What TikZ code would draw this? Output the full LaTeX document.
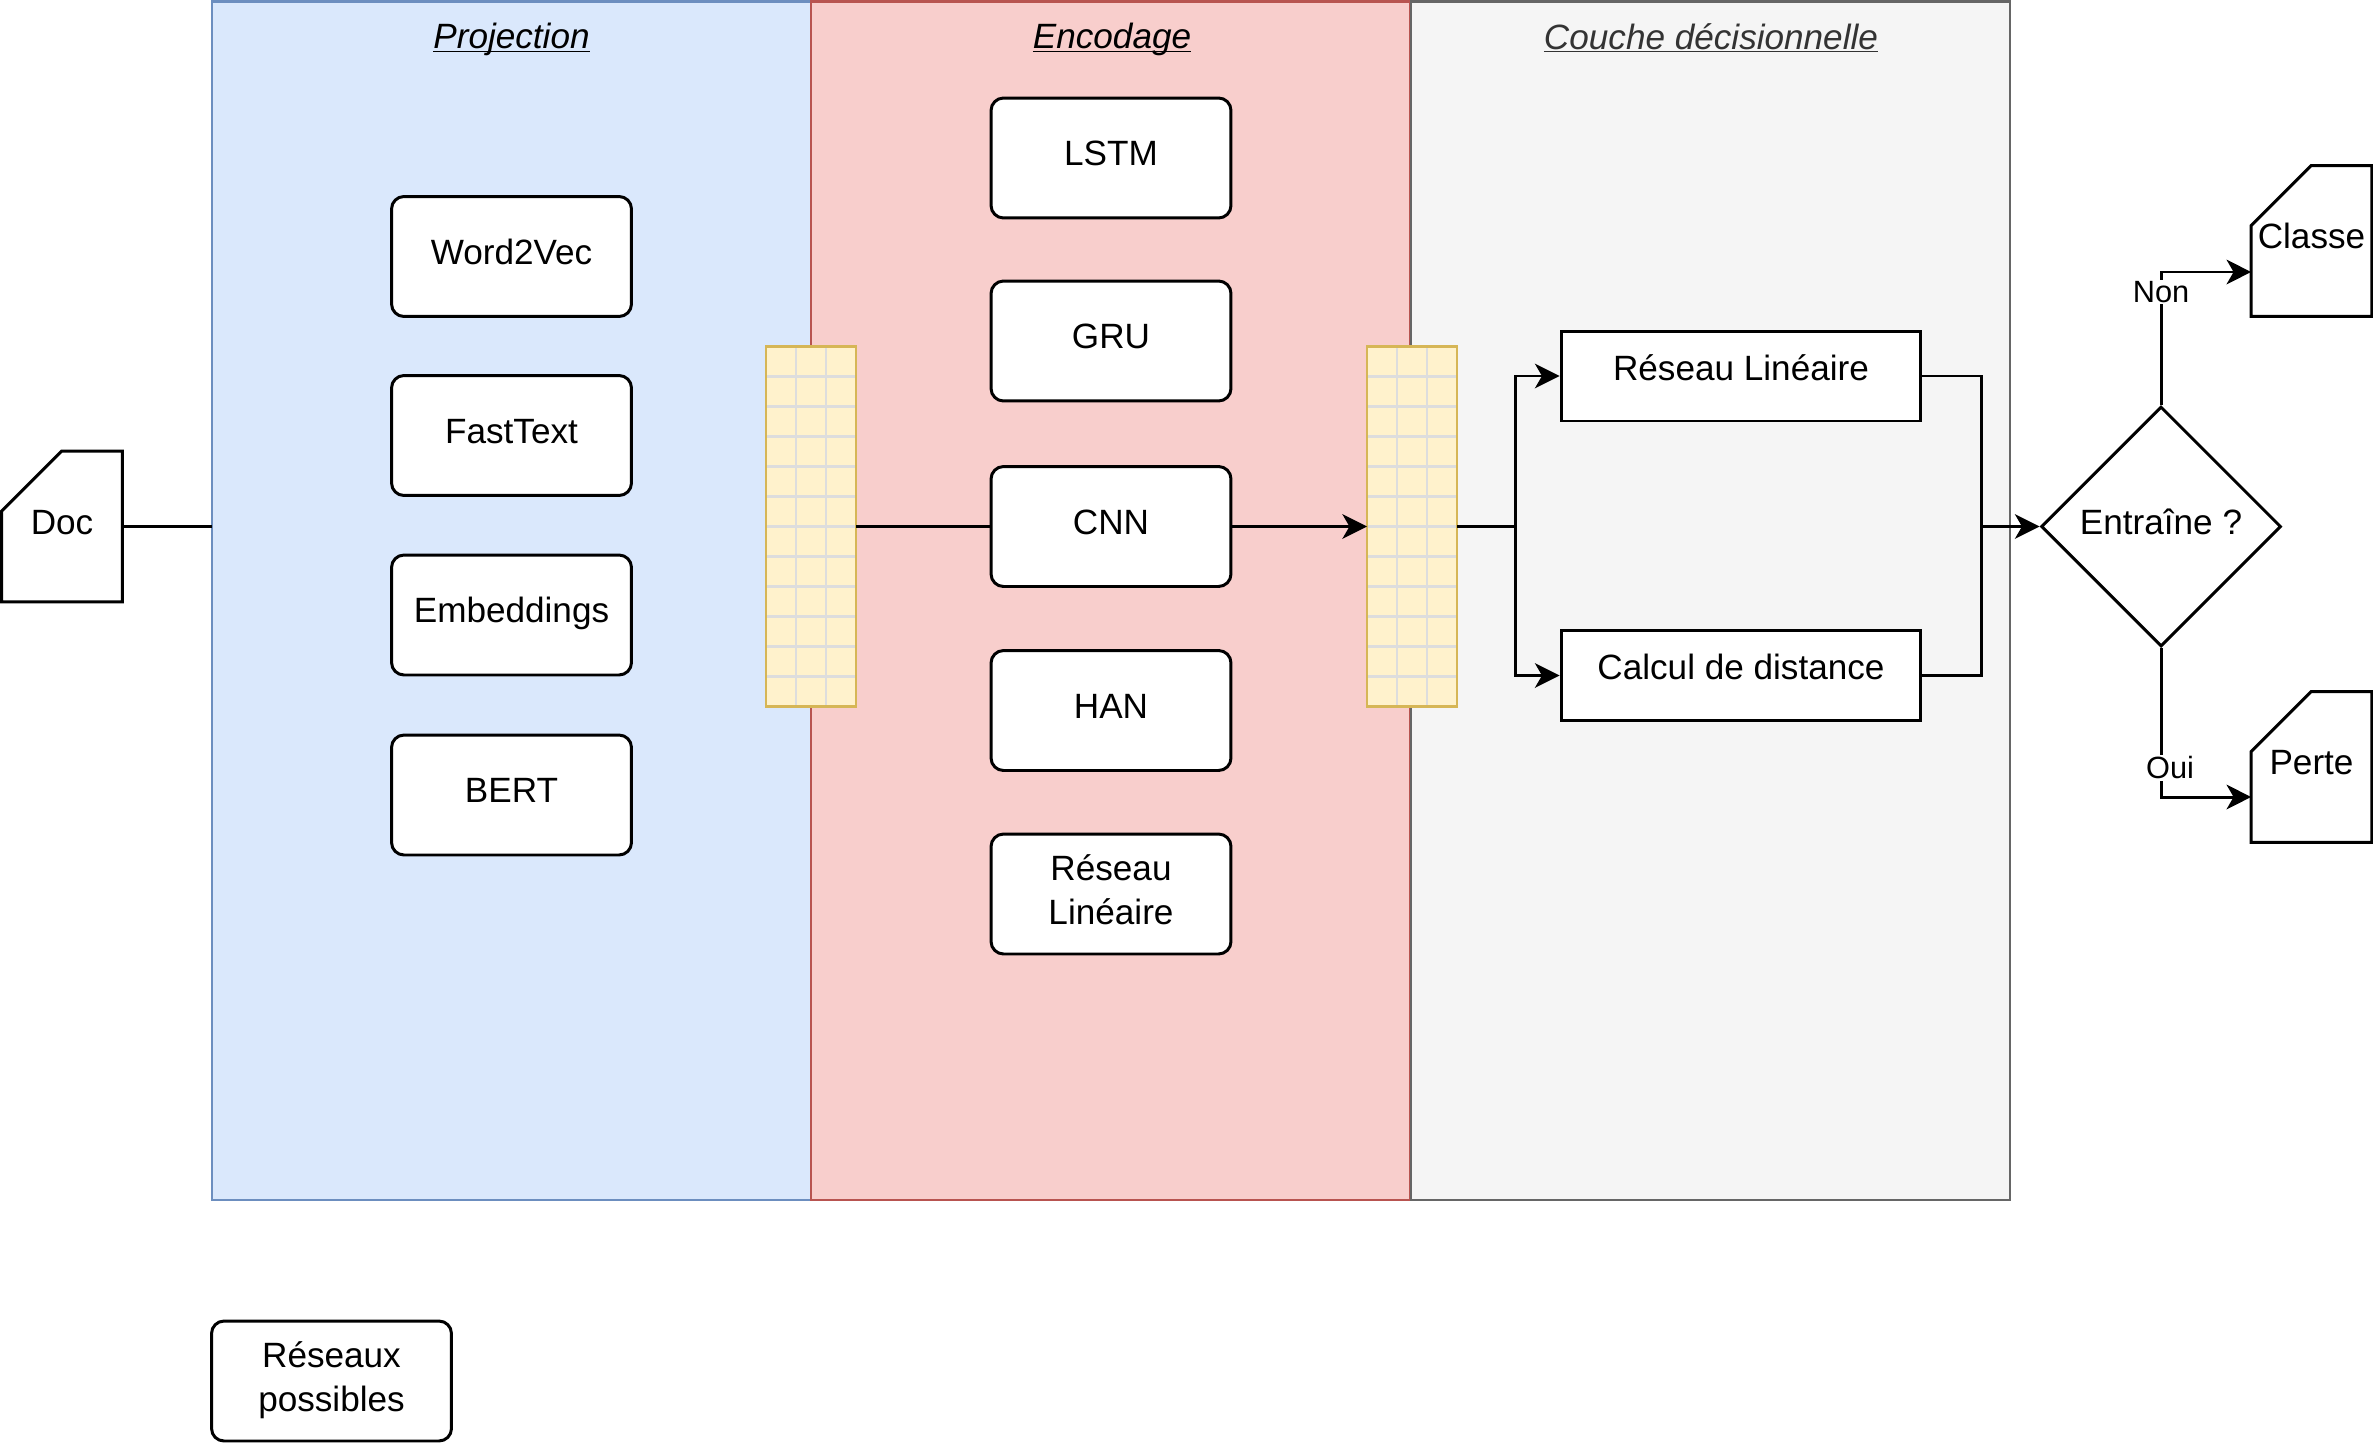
\documentclass[tikz,border=0pt]{standalone}
\usepackage{fontspec}
\setmainfont{Liberation Sans}
\usetikzlibrary{arrows.meta,shapes.geometric,calc}
\definecolor{projfill}{HTML}{DAE8FC}
\definecolor{projline}{HTML}{6C8EBF}
\definecolor{encfill}{HTML}{F8CECC}
\definecolor{encline}{HTML}{B85450}
\definecolor{decfill}{HTML}{F5F5F5}
\definecolor{decline}{HTML}{666666}
\definecolor{dectext}{HTML}{333333}
\definecolor{gridfill}{HTML}{FFF2CC}
\definecolor{gridline}{HTML}{D6B656}
\definecolor{gridgray}{HTML}{DDDDDD}
\newcommand\titletext[1]{\underline{\raisebox{0pt}[\height][0pt]{#1}}}
\newcommand\twolines[2]{\raisebox{2.5pt}{\begin{tabular}{@{}c@{}}#1\\#2\end{tabular}}}
\begin{document}
\begin{tikzpicture}[x=0.02cm,y=-0.02cm,
  txt/.style={font=\fontsize{20}{25}\selectfont},
  raised/.style={text height=14.5pt, text depth=5.6pt},
  lane/.style={draw, line width=1.5pt, minimum width=11.98cm, minimum height=23.97cm, inner sep=0, outer sep=0},
  title/.style={font=\fontsize{20}{25}\selectfont\itshape, inner sep=0},
  netbox/.style={draw, line width=1.7pt, rounded corners=0.25cm, fill=white, minimum width=4.8cm, minimum height=2.4cm, inner sep=0, txt},
  decbox/.style={draw, line width=1.7pt, fill=white, minimum width=7.2cm, minimum height=1.8cm},
  vecblock/.style={fill=gridfill, minimum width=1.8cm, minimum height=7.2cm, inner sep=0, outer sep=0},
  card/.style={minimum width=2.4cm, minimum height=3cm, inner sep=0, txt, raised},
  conn/.style={line width=1.7pt},
  arr/.style={conn, -{Stealth[length=14pt,width=14pt,inset=4pt]}},
  edgelabel/.style={fill=white, inner sep=1pt, font=\fontsize{17.5}{20}\selectfont},
]
\useasboundingbox (0,0) rectangle (2373,1443);

% lanes
\node[lane, fill=projfill, draw=projline] (proj) at (511.5,600.75) {};
\node[lane, fill=encfill, draw=encline] (enc) at (1110.5,600.75) {};
\node[lane, fill=decfill, draw=decline] (dec) at (1710.5,600.75) {};
\node[title] (tproj) at (511.5,38) {\titletext{Projection}};
\node[title] (tenc) at (1112,38) {\titletext{Encodage}};
\node[title, text=dectext] (tdec) at (1711,38) {\titletext{Couche décisionnelle}};

% document card
\node[card] (doc) at (62,526.5) {Doc};
\draw[conn] ($(doc.north west)+(0,60)$) -- ($(doc.north west)+(60,0)$) -- (doc.north east) -- (doc.south east) -- (doc.south west) -- cycle;

% output cards
\node[card] (classe) at (2311.5,241) {Classe};
\draw[conn] ($(classe.north west)+(0,60)$) -- ($(classe.north west)+(60,0)$) -- (classe.north east) -- (classe.south east) -- (classe.south west) -- cycle;
\node[card] (perte) at (2311.5,767) {Perte};
\draw[conn] ($(perte.north west)+(0,60)$) -- ($(perte.north west)+(60,0)$) -- (perte.north east) -- (perte.south east) -- (perte.south west) -- cycle;

% vector blocks
\node[vecblock] (g1) at (811,526.5) {};
\draw[gridgray, line width=1.4pt, shift={(g1.south west)}] (0,0) grid[step=0.6cm] (1.8cm,7.2cm);
\draw[gridline, line width=1.5pt] (g1.south west) rectangle (g1.north east);
\node[vecblock] (g2) at (1412,526.5) {};
\draw[gridgray, line width=1.4pt, shift={(g2.south west)}] (0,0) grid[step=0.6cm] (1.8cm,7.2cm);
\draw[gridline, line width=1.5pt] (g2.south west) rectangle (g2.north east);

% projection boxes
\node[netbox, raised] (w2v) at (511.5,256.5) {Word2Vec};
\node[netbox, raised] (ft) at (511.5,435.5) {FastText};
\node[netbox, raised] (emb) at (511.5,615) {Embeddings};
\node[netbox, raised] (bert) at (511.5,795) {BERT};
% encoding boxes
\node[netbox, raised] (lstm) at (1111,158) {LSTM};
\node[netbox, raised] (gru) at (1111,341) {GRU};
\node[netbox, raised] (cnn) at (1111,526.5) {CNN};
\node[netbox, raised] (han) at (1111,710.5) {HAN};
\node[netbox] (rlin) at (1111,894) {\twolines{Réseau}{Linéaire}};
% legend
\node[netbox] (poss) at (331.5,1381) {\twolines{Réseaux}{possibles}};

% decision boxes
\node[decbox, label={[txt, anchor=center, yshift=-0.76cm]north:Réseau Linéaire}] (rl) at (1741,376) {};
\node[decbox, label={[txt, anchor=center, yshift=-0.76cm]north:Calcul de distance}] (cd) at (1741,675.5) {};

% diamond
\node[diamond, draw, line width=1.7pt, fill=white, minimum width=4.8cm, minimum height=4.8cm, inner sep=0, txt, raised] (dia) at (2161,526.5) {Entraîne ?};

% connectors
\draw[conn] (doc.east) -- (doc.east -| proj.west);
\draw[conn] (g1.east) -- (cnn.west);
\draw[arr] (cnn.east) -- (g2.west);
\coordinate (split) at (1515,526.5);
\draw[conn] (g2.east) -- (split);
\draw[arr] (split) |- (rl.west);
\draw[arr] (split) |- (cd.west);
\coordinate (merge) at (1981,526.5);
\draw[conn] (rl.east) -| (merge);
\draw[conn] (cd.east) -| (merge);
\draw[arr] (merge) -- (dia.west);

\draw[arr] (dia.north) |- ($(classe.west)+(0,31)$);
\node[edgelabel] (non) at (2161,292) {Non};
\draw[arr] (dia.south) |- ($(perte.west)+(0,30)$);
\node[edgelabel] (oui) at (2170,768) {Oui};
\end{tikzpicture}
\end{document}
